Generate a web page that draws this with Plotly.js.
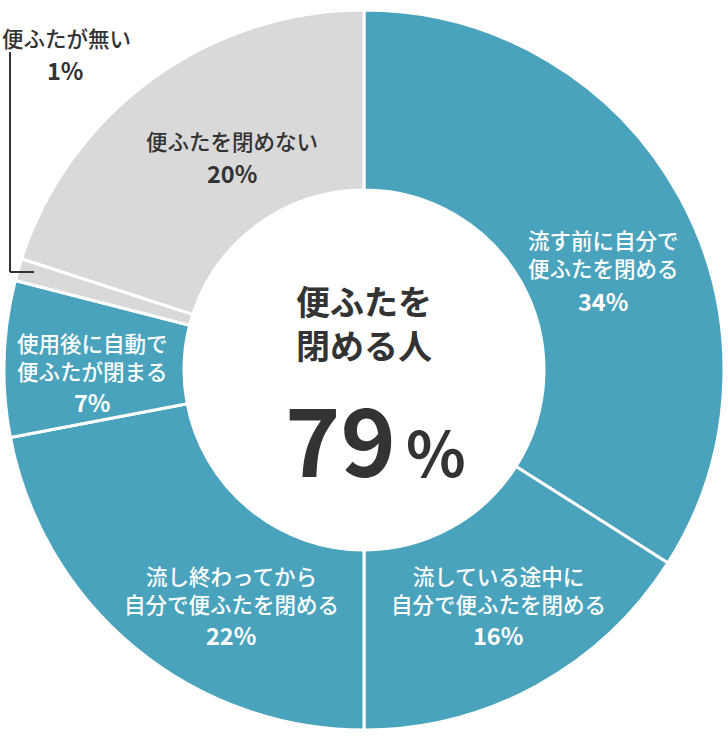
<!DOCTYPE html>
<html>
<head>
<meta charset="utf-8">
<script src="https://cdn.plot.ly/plotly-3.0.1.min.js"></script>
<style>
  html, body { margin: 0; padding: 0; background: #fff; }
  #chart { width: 728px; height: 746px; }
</style>
</head>
<body>
<div id="chart"></div>
<script>
  // slices, clockwise from 12 o'clock
  const labels = [
    '流す前に自分で<br>便ふたを閉める',
    '流している途中に<br>自分で便ふたを閉める',
    '流し終わってから<br>自分で便ふたを閉める',
    '使用後に自動で<br>便ふたが閉まる',
    '便ふたが無い',
    '便ふたを閉めない'
  ];
  const values = [34, 16, 22, 7, 1, 20];
  const colors = ['#4aa3bc', '#4aa3bc', '#4aa3bc', '#4aa3bc', '#d9d9d9', '#d9d9d9'];
  const textColors = ['#ffffff', '#ffffff', '#ffffff', '#ffffff', '#333333', '#333333'];
  const centerTitle = '便ふたを<br>閉める人';
  const centerValue = 79;

  const W = 728, H = 746;
  const font = '"Noto Sans CJK JP", "Noto Sans", sans-serif';
  const px = x => x / W;
  const py = y => 1 - y / H;

  // where each label sits (pixels: name center, percent center)
  const labelPos = [
    [603, 253, 301],
    [498, 589, 635],
    [231, 589, 635],
    [92, 356, 402],
    [65, 37, 70],
    [232, 140, 173]
  ];

  const annotations = [];
  labels.forEach(function (lab, i) {
    const p = labelPos[i];
    annotations.push({
      xref: 'paper', yref: 'paper', x: i === 4 ? 0 : px(p[0]), y: py(p[1]),
      xanchor: i === 4 ? 'left' : 'center', yanchor: 'middle',
      text: lab, showarrow: false, align: 'center',
      font: {family: font, size: 21.5, color: textColors[i], weight: 500}
    });
    annotations.push({
      xref: 'paper', yref: 'paper', x: px(p[0]), y: py(p[2]),
      xanchor: 'center', yanchor: 'middle',
      text: values[i] + '%', showarrow: false,
      font: {family: font, size: 23.5, color: textColors[i], weight: 700}
    });
  });

  annotations.push({
    xref: 'paper', yref: 'paper', x: px(364), y: py(322),
    xanchor: 'center', yanchor: 'middle',
    text: centerTitle, showarrow: false, align: 'center',
    font: {family: font, size: 34, color: '#333333', weight: 700}
  });
  annotations.push({
    xref: 'paper', yref: 'paper', x: px(398), y: py(436),
    xanchor: 'right', yanchor: 'middle',
    text: String(centerValue), showarrow: false,
    font: {family: font, size: 94, color: '#333333', weight: 700}
  });
  annotations.push({
    xref: 'paper', yref: 'paper', x: px(404), y: py(450),
    xanchor: 'left', yanchor: 'middle',
    text: '%', showarrow: false,
    font: {family: font, size: 62, color: '#333333', weight: 700}
  });

  const data = [{
    type: 'pie',
    labels: labels,
    values: values,
    sort: false,
    direction: 'clockwise',
    rotation: 0,
    hole: 0.5,
    marker: {colors: colors, line: {color: '#ffffff', width: 3}},
    textinfo: 'none',
    hoverinfo: 'none',
    domain: {x: [px(4), px(724)], y: [py(730), py(10)]}
  }];

  const layout = {
    width: W, height: H,
    margin: {l: 0, r: 0, t: 0, b: 0},
    paper_bgcolor: '#ffffff',
    showlegend: false,
    annotations: annotations,
    shapes: [
      {type: 'line', xref: 'paper', yref: 'paper', x0: px(10), x1: px(10), y0: py(52), y1: py(272),
       line: {color: '#333333', width: 2}},
      {type: 'line', xref: 'paper', yref: 'paper', x0: px(10), x1: px(34), y0: py(272), y1: py(272),
       line: {color: '#333333', width: 2}}
    ]
  };

  Plotly.newPlot('chart', data, layout, {displayModeBar: false, staticPlot: true});
</script>
</body>
</html>
